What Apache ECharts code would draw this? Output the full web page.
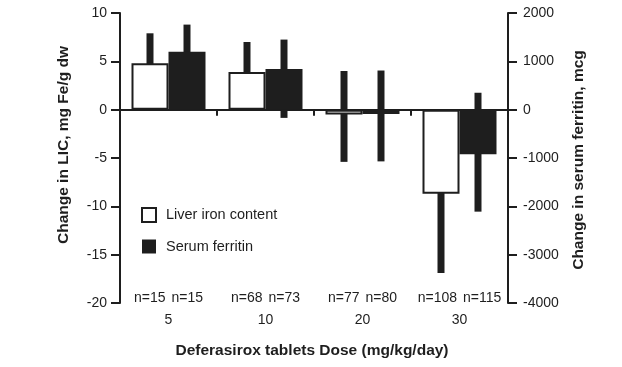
<!DOCTYPE html>
<html><head><meta charset="utf-8">
<script src="https://cdn.jsdelivr.net/npm/echarts@6/dist/echarts.min.js"></script>
<style>html,body{margin:0;padding:0;background:#fff}#c{width:622px;height:367px}</style>
</head><body><div id="c"></div>
<script>
// ---- data ----
const doses = ['5', '10', '20', '30'];
const nLiver = [15, 68, 77, 108];
const nFerritin = [15, 73, 80, 115];
// Change in LIC (mg Fe/g dw): mean and error-bar ends
const licMean = [4.8, 3.9, -0.5, -8.7];
const licLow = [1.7, 0.8, -5.4, -16.9];
const licHigh = [7.9, 7.0, 4.0, -0.6];
// Change in serum ferritin (mcg): mean and error-bar ends
const sfMean = [1200, 840, -90, -920];
const sfLow = [640, -170, -1070, -2110];
const sfHigh = [1760, 1450, 810, 350];
const leftTicks = { min: -20, max: 10, interval: 5 };
const rightTicks = { min: -4000, max: 2000, interval: 1000 };

const FONT = "'Liberation Sans', Arial, sans-serif";
const INK = '#1e1e1e';
const BAR_W = 37;
const ERR_W = 7;

function errRender(offset) {
  return function (params, api) {
    const p1 = api.coord([api.value(0), api.value(1)]);
    const p2 = api.coord([api.value(0), api.value(2)]);
    const x = p1[0] + offset - ERR_W / 2;
    const y = Math.min(p1[1], p2[1]);
    return {
      type: 'rect',
      shape: { x: x, y: y, width: ERR_W, height: Math.abs(p2[1] - p1[1]) },
      style: { fill: INK }
    };
  };
}

const chart = echarts.init(document.getElementById('c'), null, { renderer: 'canvas' });
chart.setOption({
  animation: false,
  backgroundColor: '#fff',
  textStyle: { fontFamily: FONT },
  grid: { left: 120, right: 114, top: 13, bottom: 64, containLabel: false },
  legend: {
    orient: 'vertical', left: 136, top: 202,
    itemWidth: 14, itemHeight: 14, itemGap: 16,
    icon: 'rect',
    textStyle: { fontFamily: FONT, fontSize: 14.5, color: INK, padding: [0, 0, 0, 5] },
    data: ['Liver iron content', 'Serum ferritin']
  },
  xAxis: [{
    type: 'category', data: doses,
    axisLine: { onZero: true, lineStyle: { color: INK, width: 2 } },
    axisTick: { show: true, length: 6, alignWithLabel: false, lineStyle: { color: INK, width: 2 } },
    axisLabel: { show: false }
  }, {
    type: 'category', data: doses, position: 'bottom',
    axisLine: { show: false, onZero: false },
    axisTick: { show: false },
    axisLabel: {
      interval: 0,
      margin: -16,
      formatter: function (v, i) {
        return '{n|n=' + nLiver[i] + '}{g|}{n|n=' + nFerritin[i] + '}\n{d|' + v + '}';
      },
      rich: {
        n: { fontFamily: FONT, fontSize: 14, color: INK, lineHeight: 22 },
        g: { width: 6, lineHeight: 22 },
        d: { fontFamily: FONT, fontSize: 14, color: INK, lineHeight: 22 }
      }
    }
  }],
  yAxis: [{
    type: 'value', position: 'left',
    min: leftTicks.min, max: leftTicks.max, interval: leftTicks.interval,
    splitLine: { show: false },
    axisLine: { show: true, lineStyle: { color: INK, width: 2 } },
    axisTick: { show: true, length: 9, lineStyle: { color: INK, width: 2 } },
    axisLabel: { margin: 13, fontFamily: FONT, fontSize: 14, color: INK }
  }, {
    type: 'value', position: 'right',
    min: rightTicks.min, max: rightTicks.max, interval: rightTicks.interval,
    splitLine: { show: false },
    axisLine: { show: true, lineStyle: { color: INK, width: 2 } },
    axisTick: { show: true, length: 9, lineStyle: { color: INK, width: 2 } },
    axisLabel: { margin: 15, fontFamily: FONT, fontSize: 14, color: INK, formatter: v => String(v) }
  }],
  graphic: [
    { type: 'text', x: 64, y: 145, rotation: Math.PI / 2,
      style: { text: 'Change in LIC, mg Fe/g dw', font: 'bold 15.5px ' + FONT, fill: INK, textAlign: 'center', textVerticalAlign: 'middle' } },
    { type: 'text', x: 579, y: 160, rotation: Math.PI / 2,
      style: { text: 'Change in serum ferritin, mcg', font: 'bold 15.5px ' + FONT, fill: INK, textAlign: 'center', textVerticalAlign: 'middle' } },
    { type: 'text', x: 312, y: 351,
      style: { text: 'Deferasirox tablets Dose (mg/kg/day)', font: 'bold 15.5px ' + FONT, fill: INK, textAlign: 'center', textVerticalAlign: 'middle' } }
  ],
  series: [{
    type: 'custom', name: 'licErr', xAxisIndex: 0, yAxisIndex: 0, z: 1,
    renderItem: errRender(-BAR_W / 2),
    data: doses.map((d, i) => [i, licLow[i], licHigh[i]])
  }, {
    type: 'custom', name: 'sfErr', xAxisIndex: 0, yAxisIndex: 1, z: 1,
    renderItem: errRender(BAR_W / 2),
    data: doses.map((d, i) => [i, sfLow[i], sfHigh[i]])
  }, {
    type: 'bar', name: 'Liver iron content', xAxisIndex: 0, yAxisIndex: 0, z: 2,
    barWidth: BAR_W, barGap: '0%',
    itemStyle: { color: '#ffffff', borderColor: INK, borderWidth: 2 },
    data: licMean
  }, {
    type: 'bar', name: 'Serum ferritin', xAxisIndex: 0, yAxisIndex: 1, z: 2,
    barWidth: BAR_W, barGap: '0%',
    itemStyle: { color: INK, borderColor: INK, borderWidth: 0 },
    data: sfMean
  }]
});
</script></body></html>
